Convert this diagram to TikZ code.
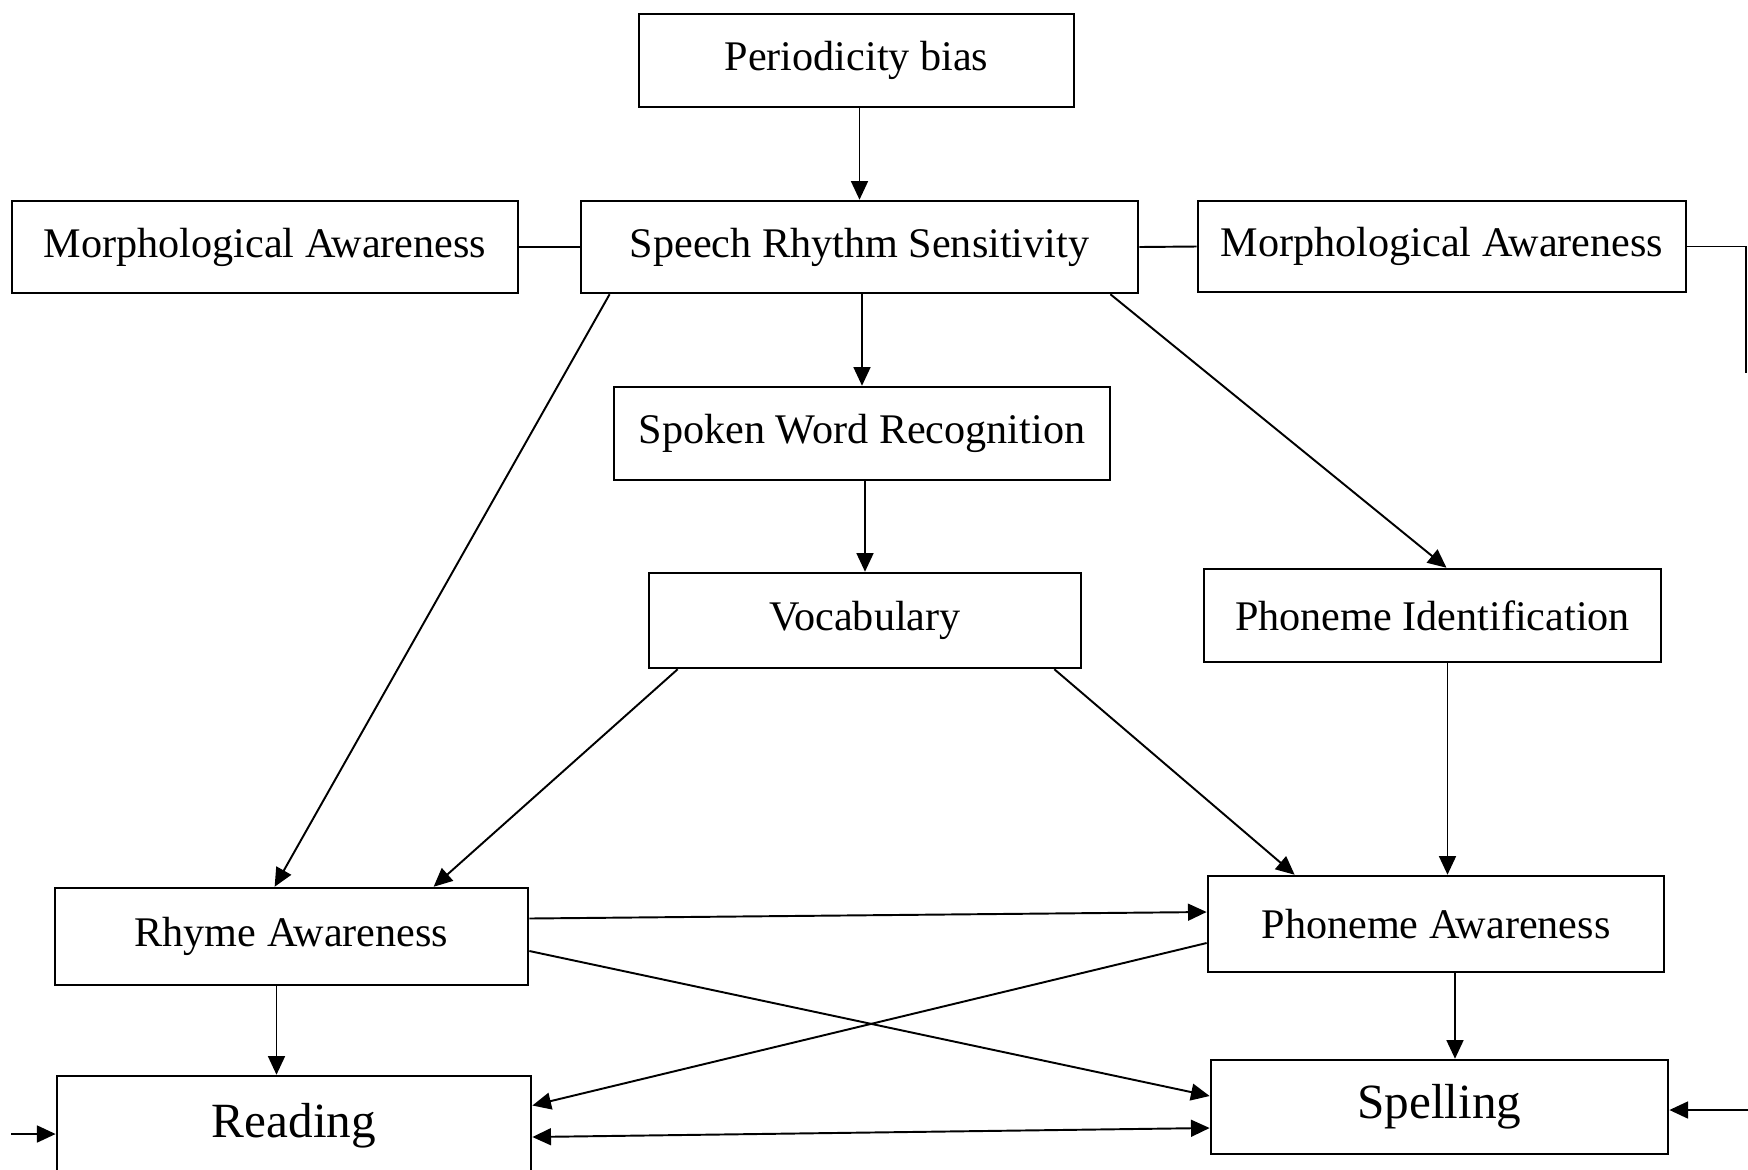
\documentclass[tikz,border=0pt]{standalone}
\usepackage{fontspec}
\setmainfont{Liberation Serif}
\usetikzlibrary{arrows.meta,calc}

\tikzset{
    box/.style={draw,line width=0.7pt,inner sep=0pt,font=\fontsize{12}{14}\selectfont},
    bigbox/.style={box,font=\fontsize{14}{16}\selectfont},
    tip/.tip={Triangle[length=5.3pt,width=4.8pt]},
    arr/.style={-tip,line width=0.55pt},
    twoarr/.style={tip-tip,line width=0.55pt},
    link/.style={line width=0.55pt}
}

\begin{document}
\begin{tikzpicture}[x=0.01cm,y=-0.01cm]
\useasboundingbox (0,0) rectangle (1748,1169);
\node[box,minimum width=4.35cm,minimum height=0.93cm] (period) at (856.5,60.5) {Periodicity bias};
\node[box,minimum width=5.06cm,minimum height=0.92cm] (morphL) at (265,247) {Morphological Awareness};
\node[box,minimum width=5.57cm,minimum height=0.92cm] (rhythm) at (859.5,247) {Speech Rhythm Sensitivity};
\node[box,minimum width=4.88cm,minimum height=0.91cm] (morphR) at (1442,246.5) {Morphological Awareness};
\node[box,minimum width=4.96cm,minimum height=0.93cm] (spoken) at (862,433.5) {Spoken Word Recognition};
\node[box,minimum width=4.32cm,minimum height=0.95cm] (vocab) at (865,620.5) {Vocabulary};
\node[box,minimum width=4.57cm,minimum height=0.93cm] (phonid) at (1432.5,615.5) {Phoneme Identification};
\node[box,minimum width=4.73cm,minimum height=0.97cm] (rhyme) at (291.5,936.5) {Rhyme Awareness};
\node[box,minimum width=4.56cm,minimum height=0.96cm] (phonaw) at (1436,924) {Phoneme Awareness};
\node[bigbox,minimum width=4.74cm,minimum height=0.99cm] (reading) at (294,1125.5) {Reading};
\node[bigbox,minimum width=4.57cm,minimum height=0.94cm] (spelling) at (1439.5,1107) {Spelling};

\coordinate (rend) at (1746,373);
\coordinate (readin) at (11,1134);
\coordinate (spellin) at (1748,1110);

\draw[arr] (period.south -| rhythm.north) -- (rhythm.north);
\draw[link] (morphL.east) -- (rhythm.west);
\draw[link] (rhythm.east) -- (morphR.west);
\draw[link] (morphR.east) -| (rend);
\draw[arr] (spoken.north |- rhythm.south) -- (spoken.north);
\draw[arr] ($(rhythm.south west)+(30,0)$) -- ($(rhyme.north west)+(221,0)$);
\draw[arr] ($(rhythm.south east)+(-29,0)$) -- ($(phonid.north)+(14,0)$);
\draw[arr] (vocab.north |- spoken.south) -- (vocab.north);
\draw[arr] ($(vocab.south west)+(30,0)$) -- ($(rhyme.north west)+(380,0)$);
\draw[arr] ($(vocab.south east)+(-28,0)$) -- ($(phonaw.north west)+(88,0)$);
\draw[arr] ($(phonid.south)+(15,0)$) -- ($(phonaw.north)+(11.5,0)$);
\draw[arr] ($(rhyme.east)+(0,-18)$) -- ($(phonaw.west)+(0,-12)$);
\draw[arr] ($(rhyme.east)+(0,14.5)$) -- ($(spelling.west)+(0,-11)$);
\draw[arr] ($(phonaw.west)+(0,19)$) -- ($(reading.east)+(0,-20)$);
\draw[twoarr] ($(reading.east)+(0,11.5)$) -- ($(spelling.west)+(0,21)$);
\draw[arr] ($(rhyme.south)+(-15,0)$) -- ($(reading.north)+(-17.5,0)$);
\draw[arr] ($(phonaw.south)+(19,0)$) -- ($(spelling.north)+(15.5,0)$);
\draw[arr] (readin) -- (readin -| reading.west);
\draw[arr] (spellin) -- (spellin -| spelling.east);
\end{tikzpicture}
\end{document}
